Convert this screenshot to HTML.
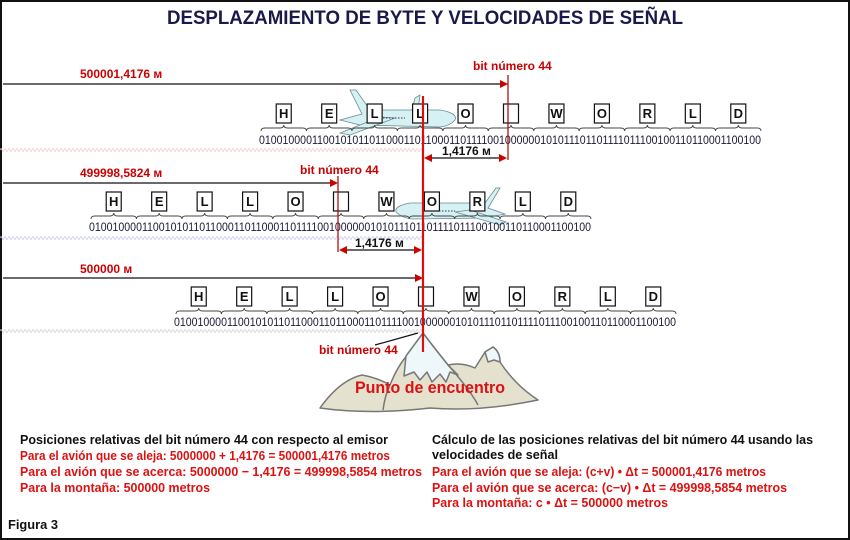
<!DOCTYPE html>
<html><head><meta charset="utf-8"><style>
html,body{margin:0;padding:0;background:#fff}
svg{display:block}
text{font-family:"Liberation Sans",sans-serif}
</style></head><body>
<svg id="s" width="850" height="540" viewBox="0 0 850 540" xmlns="http://www.w3.org/2000/svg">
<rect x="1" y="1" width="848" height="538" fill="#fff" stroke="#111" stroke-width="2"/>
<text x="425" y="24" text-anchor="middle" font-size="19" font-weight="bold" fill="#1a1a4a" textLength="516" lengthAdjust="spacingAndGlyphs">DESPLAZAMIENTO DE BYTE Y VELOCIDADES DE SEÑAL</text>

<!-- mountain -->
<g stroke="#777" stroke-width="1.5" stroke-linejoin="round">
<path d="M320,408 Q340,380 362,375 Q378,378 390,385 Q400,360 413,350 L423,333 Q432,345 448,365 Q462,362 475,368 L485,352 L493,347 Q500,352 500,362 Q515,385 538,400 Q480,412 430,408 Q370,415 320,408 Z" fill="#e4e2cf"/>
<path d="M406,356 L423,333 Q432,345 448,365 L458,375 L450,372 L446,382 L440,374 L432,382 L427,372 L420,380 L414,372 L404,376 Z" fill="#eef8fb"/>
<path d="M485,352 L493,347 Q500,352 500,362 L494,360 L488,362 Z" fill="#eef8fb"/>
<path d="M390,385 Q385,395 383,410 M448,365 Q470,390 478,405" fill="none"/>
</g>

<!-- planes -->
<g fill="#d6f1f4" stroke="#6a8a90" stroke-width="0.8">
<path d="M350,90 L356,90 L370,110 L440,110 Q458,113 455,120 Q450,126 440,127 L360,125 L340,120 L362,114 Z"/>
<path d="M395,118 L350,135 L340,133 L380,117 Z"/>
<path d="M415,98 L420,95 L418,110 L412,110 Z"/>
<path d="M500,188 L496,188 L485,203 L410,203 Q394,206 396,212 Q402,218 412,219 L485,218 L505,214 L488,208 Z"/>
<path d="M455,212 L500,225 L506,222 L470,210 Z"/>
</g>
<path d="M380,118 H405 M430,211 H455" stroke="#334" stroke-width="1" stroke-dasharray="1.5,1.5"/>

<!-- waves -->
<path id="w1" fill="none" stroke="#f2caca" stroke-width="0.8"/>
<path id="w2" fill="none" stroke="#c8c8f2" stroke-width="0.8"/>
<path id="w3" fill="none" stroke="#d0d0d0" stroke-width="0.8"/>

<g id="rows"></g>

<g fill="#cc0000" font-weight="bold" font-size="12">
<text x="80" y="78">500001,4176 м</text>
<text x="473" y="70">bit número 44</text>
<text x="80" y="177">499998,5824 м</text>
<text x="300" y="174">bit número 44</text>
<text x="80" y="273">500000 м</text>
<text x="319" y="354">bit número 44</text>
</g>
<g stroke="#111" stroke-width="1.2">
<line x1="3" y1="84" x2="502" y2="84"/>
<line x1="3" y1="183" x2="332" y2="183"/>
<line x1="3" y1="278" x2="417" y2="278"/>
<line x1="430" y1="158" x2="501" y2="158"/>
<line x1="345" y1="250" x2="416" y2="250"/>
<line x1="375" y1="345" x2="418" y2="333"/>
</g>
<g fill="#cc0000">
<path d="M508,84 L500,80 L500,88 Z"/>
<path d="M338,183 L330,179 L330,187 Z"/>
<path d="M423,278 L415,274 L415,282 Z"/>
<path d="M424,158 L432,154 L432,162 Z M507,158 L499,154 L499,162 Z"/>
<path d="M339,250 L347,246 L347,254 Z M422,250 L414,246 L414,254 Z"/>
</g>
<g font-weight="bold" font-size="12" fill="#111">
<text x="442" y="155">1,4176 м</text>
<text x="355" y="247">1,4176 м</text>
</g>
<g stroke="#aa0000" stroke-width="1.2">
<line x1="508" y1="75" x2="508" y2="160"/>
<line x1="338" y1="176" x2="338" y2="252"/>
</g>
<line x1="423" y1="96" x2="423" y2="352" stroke="#d81010" stroke-width="2.2"/>

<text x="355" y="393" font-size="17" font-weight="bold" fill="#dd1111" textLength="150" lengthAdjust="spacingAndGlyphs">Punto de encuentro</text>

<g font-size="13" font-weight="bold">
<text x="20" y="444" fill="#111" textLength="368" lengthAdjust="spacingAndGlyphs">Posiciones relativas del bit número 44 con respecto al emisor</text>
<text x="20" y="460" fill="#dd1111" textLength="370" lengthAdjust="spacingAndGlyphs">Para el avión que se aleja: 5000000 + 1,4176 = 500001,4176 metros</text>
<text x="20" y="476" fill="#dd1111" textLength="402" lengthAdjust="spacingAndGlyphs">Para el avión que se acerca: 5000000 − 1,4176 = 499998,5854 metros</text>
<text x="20" y="492" fill="#dd1111" textLength="190" lengthAdjust="spacingAndGlyphs">Para la montaña: 500000 metros</text>
<text x="432" y="444" fill="#111" textLength="381" lengthAdjust="spacingAndGlyphs">Cálculo de las posiciones relativas del bit número 44 usando las</text>
<text x="432" y="459" fill="#111" textLength="126" lengthAdjust="spacingAndGlyphs">velocidades de señal</text>
<text x="432" y="476" fill="#dd1111" textLength="334" lengthAdjust="spacingAndGlyphs">Para el avión que se aleja: (c+v) • Δt = 500001,4176 metros</text>
<text x="432" y="492" fill="#dd1111" textLength="355" lengthAdjust="spacingAndGlyphs">Para el avión que se acerca: (c−v) • Δt = 499998,5854 metros</text>
<text x="432" y="507" fill="#dd1111" textLength="236" lengthAdjust="spacingAndGlyphs">Para la montaña: c • Δt = 500000 metros</text>
<text x="8" y="529" fill="#111" textLength="50" lengthAdjust="spacingAndGlyphs">Figura 3</text>
</g>
</svg>
<script>
(function(){
var NS="http://www.w3.org/2000/svg",g=document.getElementById("rows");
function el(t,a,txt){var e=document.createElementNS(NS,t);for(var k in a)e.setAttribute(k,a[k]);if(txt!=null)e.textContent=txt;g.appendChild(e);return e;}
var letters=["H","E","L","L","O","","W","O","R","L","D"];
var bits="0100100001100101011011000110110001101111001000000101011101101111011100100110110001100100";
function row(x0,by,ty){
 var w=500/11;
 for(var i=0;i<11;i++){
  var a=x0+i*w,b=a+w,m=(a+b)/2;
  el("rect",{x:m-7.5,y:by,width:15,height:19,fill:"#fff",stroke:"#111","stroke-width":1.2});
  if(letters[i])el("text",{x:m,y:by+14,"text-anchor":"middle","font-size":13,"font-weight":"bold",fill:"#111"},letters[i]);
  var y=by+21;
  el("path",{d:"M"+a+","+(y+6)+" q0,-3 4,-3 L"+(m-4)+","+(y+3)+" q4,0 4,-3 q0,3 4,3 L"+(b-4)+","+(y+3)+" q4,0 4,3",fill:"none",stroke:"#444","stroke-width":0.9});
 }
 el("text",{x:x0-2,y:ty,"font-size":12,fill:"#1a1a3a",textLength:502,lengthAdjust:"spacingAndGlyphs"},bits);
}
row(261,104,144);
row(91,192,231);
row(176,287,326);
function wave(id,y,x1){var d="M0,"+y;for(var x=0;x<x1;x+=4){d+=" q1,-3 2,0 q1,3 2,0";}document.getElementById(id).setAttribute("d",d);}
wave("w1",150,423);wave("w2",238,423);wave("w3",331,423);
})();
</script>
</body></html>
